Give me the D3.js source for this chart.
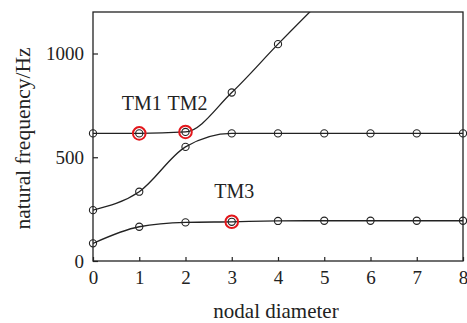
<!DOCTYPE html>
<html>
<head>
<meta charset="utf-8">
<script src="https://cdn.jsdelivr.net/npm/d3@7"></script>
</head>
<body style="margin:0">
<svg id="chart" width="467" height="323"></svg>
<script>
// ---- data ----
const xTicks = [0, 1, 2, 3, 4, 5, 6, 7, 8];
const yTicks = [0, 500, 1000];
const seriesLow = [85, 165, 186, 189, 193, 194, 194, 194, 194];            // x = 0..8
const seriesMid = [245, 334, 550, 615, 615, 615, 615, 615, 615];           // x = 0..8
const seriesHigh = [615, 615, 622, 812, 1045, 1270];                       // x = 0..5
const highlightLabels = ["TM1", "TM2", "TM3"];
const highlightX = [1, 2, 3];
const highlightSeries = ["high", "high", "low"];
const xLabel = "nodal diameter";
const yLabel = "natural frequency/Hz";

// ---- layout ----
const svg = d3.select("#chart");
const L = 93, R = 463, T = 12, B = 261;
const x = d3.scaleLinear().domain([0, 8]).range([L, R]);
const y = d3.scaleLinear().domain([0, 1200]).range([B, T]);
const ink = "#222";
const serif = "Liberation Serif";

const defs = svg.append("defs");
defs.append("clipPath").attr("id", "clip")
  .append("rect").attr("x", L).attr("y", T).attr("width", R - L).attr("height", B - T);

const toPts = arr => arr.map((v, i) => ({ x: i, y: v }));
const seriesMap = { low: toPts(seriesLow), mid: toPts(seriesMid), high: toPts(seriesHigh) };

// axes
const xAxis = d3.axisBottom(x).tickValues(xTicks).tickSizeInner(-4).tickSizeOuter(0).tickPadding(9.5).tickFormat(d3.format("d"));
const yAxis = d3.axisLeft(y).tickValues(yTicks).tickSizeInner(-5).tickSizeOuter(0).tickPadding(9).tickFormat(d3.format("d"));

const gx = svg.append("g").attr("transform", `translate(0,${B})`).call(xAxis);
const gy = svg.append("g").attr("transform", `translate(${L},0)`).call(yAxis);
[gx, gy].forEach(g => {
  g.attr("font-family", null).attr("font-size", null);
  g.select(".domain").remove();
  g.selectAll(".tick line").attr("stroke", ink).attr("stroke-width", 1.2);
  g.selectAll(".tick text").attr("font-size", 19).attr("font-family", serif).attr("fill", ink);
});

// frame
svg.append("rect").attr("x", L).attr("y", T).attr("width", R - L).attr("height", B - T)
  .attr("fill", "none").attr("stroke", ink).attr("stroke-width", 1.3);

// lines
const line = d3.line().x(d => x(d.x)).y(d => y(d.y)).curve(d3.curveMonotoneX);
const gl = svg.append("g").attr("clip-path", "url(#clip)");
Object.values(seriesMap).forEach(pts => {
  gl.append("path").attr("d", line(pts)).attr("fill", "none")
    .attr("stroke", ink).attr("stroke-width", 1.3);
});

// markers
const gm = svg.append("g");
Object.values(seriesMap).forEach(pts => {
  gm.selectAll(null).data(pts.filter(d => d.y <= 1200)).enter().append("circle")
    .attr("cx", d => x(d.x)).attr("cy", d => y(d.y)).attr("r", 3.6)
    .attr("fill", "none").attr("stroke", ink).attr("stroke-width", 1.1);
});

// highlights
const hl = highlightX.map((hx, i) => ({ x: hx, y: seriesMap[highlightSeries[i]][hx].y, label: highlightLabels[i] }));
svg.append("g").selectAll("circle").data(hl).enter().append("circle")
  .attr("cx", d => x(d.x)).attr("cy", d => y(d.y)).attr("r", 6.3)
  .attr("fill", "none").attr("stroke", "#e3161b").attr("stroke-width", 2);

const labelOffsets = [[-17.5, -23.5], [-18, -23.5], [-17.5, -23.5]];
hl.forEach((d, i) => {
  svg.append("text")
    .attr("x", x(d.x) + labelOffsets[i][0])
    .attr("y", (i < 2 ? y(615) : y(d.y)) + labelOffsets[i][1])
    .attr("font-family", serif).attr("font-size", 20).attr("fill", ink).text(d.label);
});

// axis labels
svg.append("text").attr("x", (L + R) / 2 - 2).attr("y", 318).attr("text-anchor", "middle")
  .attr("font-family", serif).attr("font-size", 21).attr("fill", ink).text(xLabel);
svg.append("text").attr("transform", `translate(30,${(T + B) / 2 + 2}) rotate(-90)`)
  .attr("text-anchor", "middle").attr("font-family", serif).attr("font-size", 21.5).attr("fill", ink).text(yLabel);
</script>
</body>
</html>
